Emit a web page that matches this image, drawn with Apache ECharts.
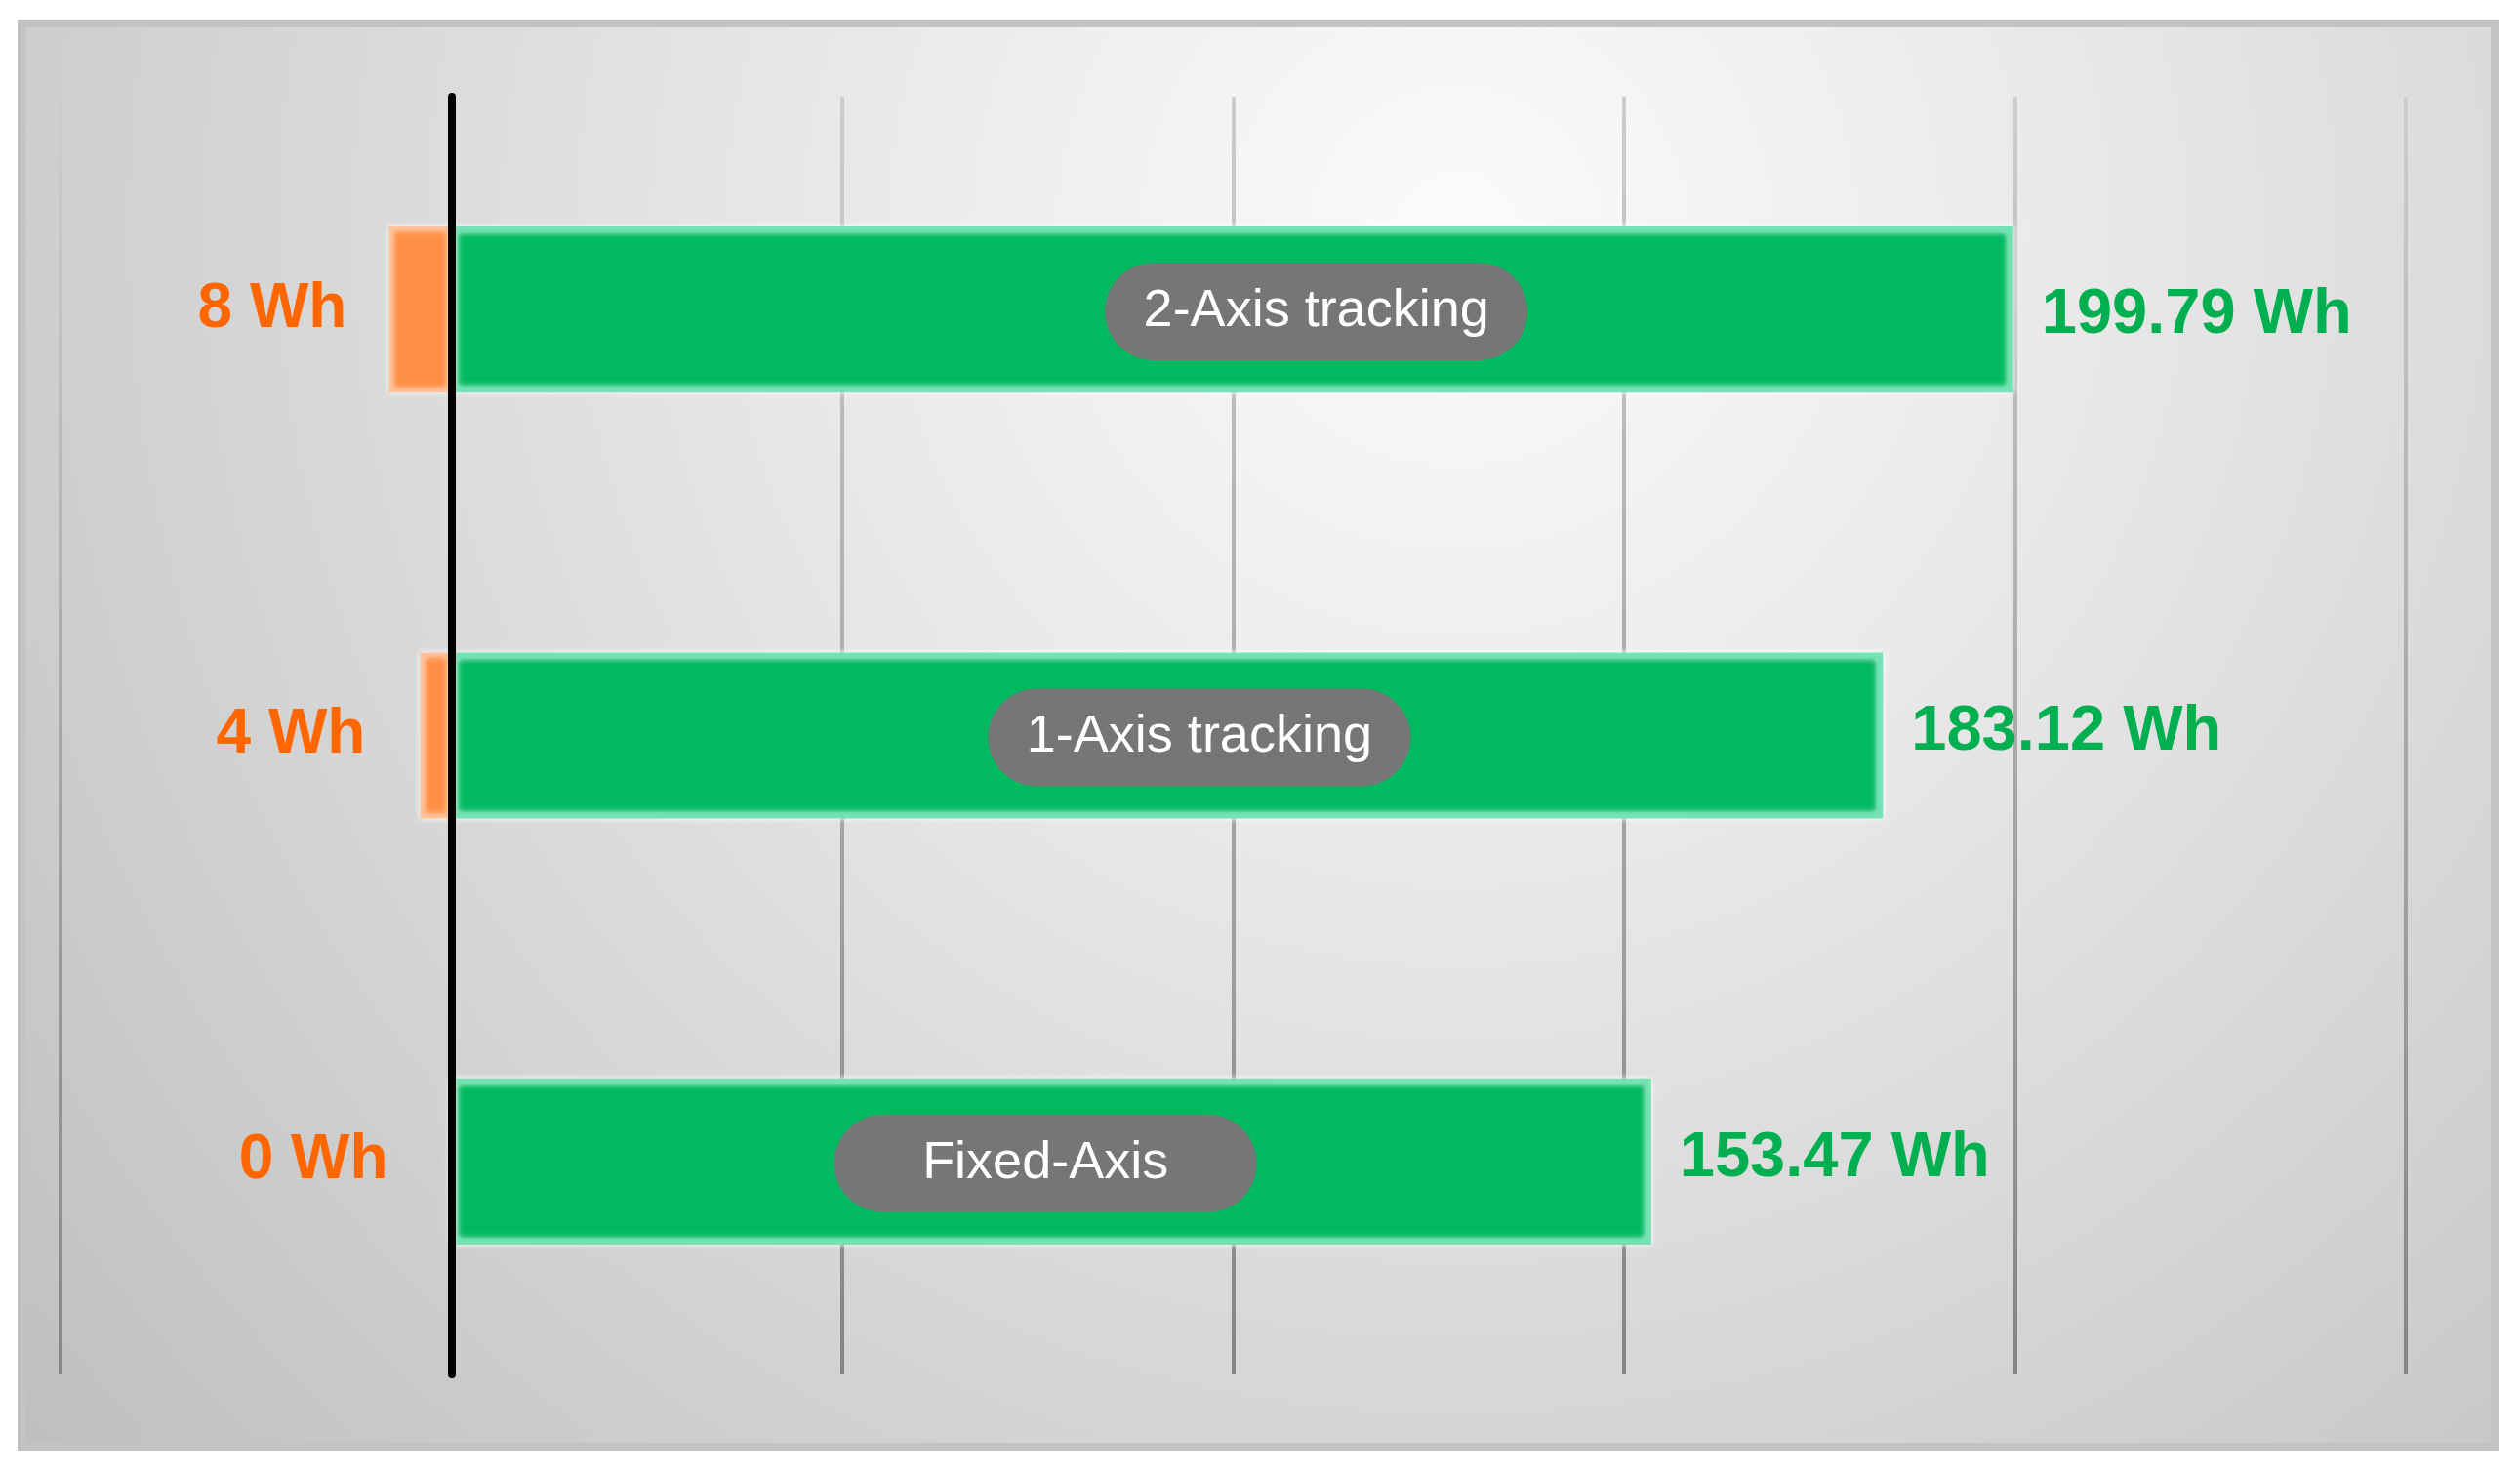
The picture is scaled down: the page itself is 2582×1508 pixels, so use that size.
<!DOCTYPE html>
<html>
<head>
<meta charset="utf-8">
<title>Tracking energy</title>
<script src="https://cdn.jsdelivr.net/npm/echarts@6/dist/echarts.min.js"></script>
<style>
  html, body { margin: 0; padding: 0; background: #fff; }
  #myChart { width: 2582px; height: 1508px; }
</style>
</head>
<body>
<div id="myChart"></div>
<script>
// categories, top to bottom
var categories = ["2-Axis tracking", "1-Axis tracking", "Fixed-Axis"];
// energy produced (Wh), green bars
var energyWh = [199.79, 183.12, 153.47];
// tracking consumption (Wh), orange bars drawn to the left of zero
var consumedWh = [8, 4, 0];
// value axis range
var axisMin = -50;
var axisMax = 250;
var axisStep = 50;

// label tweaks per bar (pixels)
var pillShift = [86, 33, -6];
var valueShift = [6, -3, -3];
var lossGap = [43, 56, 63];

var font = '"Liberation Sans", Arial, sans-serif';

var myChart = echarts.init(document.getElementById("myChart"));

myChart.setOption({
  animation: false,
  backgroundColor: "#ffffff",
  graphic: [
    {
      type: "rect",
      z: -10,
      silent: true,
      shape: { x: 22, y: 24, width: 2534, height: 1458 },
      style: {
        fill: {
          type: "radial",
          x: 0.58,
          y: 0.15,
          r: 1.35,
          colorStops: [
            { offset: 0, color: "#fbfbfb" },
            { offset: 0.35, color: "#e7e7e7" },
            { offset: 1, color: "#bdbdbd" }
          ]
        },
        stroke: "#c3c3c3",
        lineWidth: 8
      }
    }
  ],
  grid: {
    left: 62,
    right: 117,
    top: 99,
    bottom: 100
  },
  xAxis: {
    type: "value",
    min: axisMin,
    max: axisMax,
    interval: axisStep,
    axisLine: { show: false },
    axisTick: { show: false },
    axisLabel: { show: false },
    splitLine: {
      show: true,
      lineStyle: {
        width: 4,
        color: {
          type: "linear",
          global: true,
          x: 0, y: 99, x2: 0, y2: 1408,
          colorStops: [
            { offset: 0, color: "#cdcdcd" },
            { offset: 1, color: "#858585" }
          ]
        }
      }
    }
  },
  yAxis: {
    type: "category",
    inverse: true,
    data: categories,
    z: 10,
    axisLine: {
      show: true,
      onZero: true,
      lineStyle: { color: "#000000", width: 8, cap: "round" }
    },
    axisTick: { show: false },
    axisLabel: { show: false },
    splitLine: { show: false }
  },
  series: [
    {
      name: "Energy",
      type: "bar",
      barWidth: "39%",
      barGap: "-100%",
      data: energyWh.map(function (v, i) {
        return {
          value: v,
          label: { offset: [pillShift[i], 2] }
        };
      }),
      itemStyle: {
        color: "#00b960",
        borderColor: "rgba(110,225,178,0.95)",
        borderWidth: 6,
        shadowBlur: 6,
        shadowColor: "rgba(255,255,255,0.9)"
      },
      label: {
        show: true,
        position: "inside",
        formatter: function (p) { return categories[p.dataIndex]; },
        color: "#ffffff",
        fontFamily: font,
        fontSize: 54,
        lineHeight: 60,
        width: 357,
        align: "center",
        backgroundColor: "#767676",
        borderRadius: 50,
        padding: [20, 38]
      }
    },
    {
      name: "Energy value",
      type: "bar",
      barWidth: "39%",
      barGap: "-100%",
      data: energyWh.map(function (v, i) {
        return {
          value: v,
          label: { offset: [0, valueShift[i]] }
        };
      }),
      itemStyle: { color: "rgba(0,0,0,0)" },
      label: {
        show: true,
        position: "right",
        distance: 29,
        formatter: function (p) { return p.value.toFixed(2) + " Wh"; },
        color: "#00b050",
        fontFamily: font,
        fontWeight: "bold",
        fontSize: 65
      }
    },
    {
      name: "Consumption",
      type: "bar",
      barWidth: "39%",
      barGap: "-100%",
      data: consumedWh.map(function (v, i) {
        return {
          value: -v,
          label: { distance: lossGap[i] }
        };
      }),
      itemStyle: {
        color: "#ff8f45",
        borderColor: "rgba(255,190,150,0.9)",
        borderWidth: 4,
        shadowBlur: 6,
        shadowColor: "rgba(255,255,255,0.9)"
      },
      label: {
        show: true,
        position: "left",
        formatter: function (p) { return Math.abs(p.value) + " Wh"; },
        color: "#ff6600",
        fontFamily: font,
        fontWeight: "bold",
        fontSize: 64
      }
    }
  ]
});
</script>
</body>
</html>
